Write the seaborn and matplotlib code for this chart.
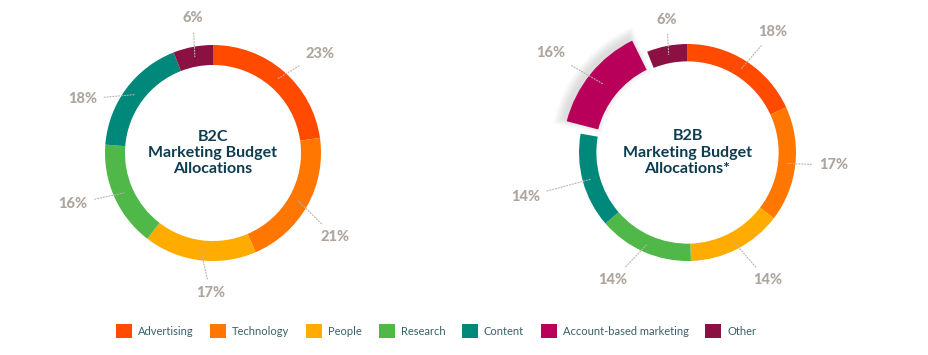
import numpy as np
import matplotlib
matplotlib.use("Agg")
import matplotlib.pyplot as plt
from matplotlib.patches import Patch, Wedge
import seaborn as sns

# data
categories = ["Advertising", "Technology", "People", "Research", "Content",
              "Account-based marketing", "Other"]
b2c_values = [23, 21, 17, 16, 18, 0, 6]
b2b_values = [18, 17, 14, 14, 14, 16, 6]
b2c_title = "B2C\nMarketing Budget\nAllocations"
b2b_title = "B2B\nMarketing Budget\nAllocations*"

# label placement (clock angle in degrees, radius as fraction of ring radius)
b2c_label_pos = [(47, 1.35), (124.5, 1.37), (181, 1.30), (250, 1.38),
                 (292.4, 1.31), None, (351.6, 1.26)]
b2b_label_pos = [(35.4, 1.36), (94.9, 1.35), (148, 1.39), (210.3, 1.36),
                 (254.7, 1.55), (305.9, 1.56), (351.2, 1.24)]

sns.set_style("white")
plt.rcParams["font.family"] = ["Lato", "DejaVu Sans"]

palette = sns.color_palette(["#FF4A00", "#FF7600", "#FFAB00", "#50B848",
                             "#00897B", "#B8005A", "#8B1142"])
label_color = "#aea69e"
title_color = "#0d3c50"

W, H = 929, 355
fig = plt.figure(figsize=(W / 100, H / 100), dpi=100)
fig.patch.set_facecolor("white")


def make_axes(cx, cy, size=320):
    return fig.add_axes([(cx - size / 2) / W, 1 - (cy + size / 2) / H, size / W, size / H])


def donut(ax, r_px, values, label_pos, title, ring_w, highlight=None, size=320):
    vals = [v for v in values if v > 0]
    cols = [palette[i] for i, v in enumerate(values) if v > 0]
    idx = [i for i, v in enumerate(values) if v > 0]
    wedges, _ = ax.pie(vals, colors=cols, startangle=90, counterclock=False,
                       radius=1.0, wedgeprops=dict(width=ring_w, linewidth=0))
    for w, i in zip(wedges, idx):
        if i == highlight:
            # pulled-out, thicker segment with a soft shadow
            w.set_theta1(w.theta1 + 4.5)
            w.set_theta2(w.theta2 - 4.5)
            w.set_radius(1.15)
            w.set_width(0.30)
            for k in range(9):
                d = k * 0.01
                sh = Wedge((-0.03, 0.025), 1.15 + d, w.theta1 - k * 0.4, w.theta2 + k * 0.4,
                           width=0.30 + 2 * d, color="#666666", alpha=0.025, lw=0, zorder=0)
                ax.add_patch(sh)
        mid = np.deg2rad((w.theta1 + w.theta2) / 2)
        rm = w.r - w.width / 2
        ang, rr = label_pos[i]
        t = np.deg2rad(90 - ang)
        ax.annotate(f"{values[i]}%", xy=(rm * np.cos(mid), rm * np.sin(mid)),
                    xytext=(rr * np.cos(t), rr * np.sin(t)),
                    ha="center", va="center", fontsize=10.5, fontweight="black",
                    color=label_color, annotation_clip=False,
                    arrowprops=dict(arrowstyle="-", linestyle=(0, (1, 1.6)),
                                    color="#b9b2ab", lw=0.8, shrinkA=3, shrinkB=0))
    ax.text(0, 0, title, ha="center", va="center", fontsize=11.5, fontweight="bold",
            color=title_color, linespacing=1.2)
    lim = size / 2 / r_px
    ax.set_xlim(-lim, lim)
    ax.set_ylim(-lim, lim)
    ax.set_aspect("equal")
    ax.axis("off")


ax1 = make_axes(213, 153)
donut(ax1, 108, b2c_values, b2c_label_pos, b2c_title, 0.185)

ax2 = make_axes(687.5, 152.5)
donut(ax2, 108.5, b2b_values, b2b_label_pos, b2b_title, 0.16, highlight=5)

handles = [Patch(facecolor=palette[i], edgecolor="none", label=c)
           for i, c in enumerate(categories)]
fig.legend(handles=handles, loc="center", bbox_to_anchor=(436 / W, 1 - 331 / H),
           ncol=7, frameon=False, fontsize=8, handlelength=1.44, handleheight=1.44,
           handletextpad=0.54, columnspacing=1.5, labelcolor="#3a5f6a",
           borderpad=0, borderaxespad=0)

fig.savefig("out.png", dpi=100, facecolor="white")
